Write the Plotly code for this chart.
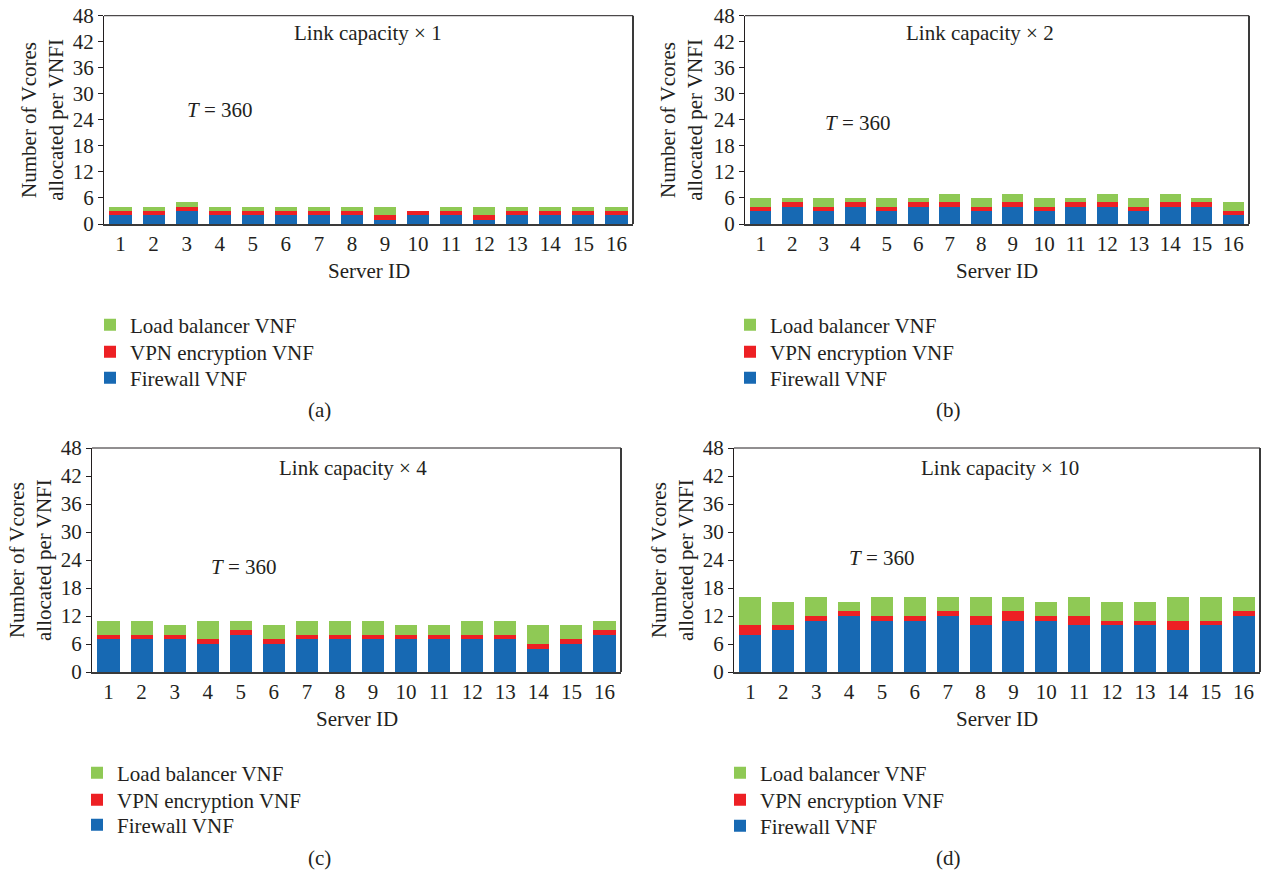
import plotly.graph_objects as go

# Server IDs on the x axis
servers = list(range(1, 17))
tick_vals = [0, 6, 12, 18, 24, 30, 36, 42, 48]

# Vcores allocated per VNF instance, one set per link-capacity scenario
a_firewall = [2, 2, 3, 2, 2, 2, 2, 2, 1, 2, 2, 1, 2, 2, 2, 2]
a_vpn = [1, 1, 1, 1, 1, 1, 1, 1, 1, 1, 1, 1, 1, 1, 1, 1]
a_lb = [1, 1, 1, 1, 1, 1, 1, 1, 2, 0, 1, 2, 1, 1, 1, 1]

b_firewall = [3, 4, 3, 4, 3, 4, 4, 3, 4, 3, 4, 4, 3, 4, 4, 2]
b_vpn = [1, 1, 1, 1, 1, 1, 1, 1, 1, 1, 1, 1, 1, 1, 1, 1]
b_lb = [2, 1, 2, 1, 2, 1, 2, 2, 2, 2, 1, 2, 2, 2, 1, 2]

c_firewall = [7, 7, 7, 6, 8, 6, 7, 7, 7, 7, 7, 7, 7, 5, 6, 8]
c_vpn = [1, 1, 1, 1, 1, 1, 1, 1, 1, 1, 1, 1, 1, 1, 1, 1]
c_lb = [3, 3, 2, 4, 2, 3, 3, 3, 3, 2, 2, 3, 3, 4, 3, 2]

d_firewall = [8, 9, 11, 12, 11, 11, 12, 10, 11, 11, 10, 10, 10, 9, 10, 12]
d_vpn = [2, 1, 1, 1, 1, 1, 1, 2, 2, 1, 2, 1, 1, 2, 1, 1]
d_lb = [6, 5, 4, 2, 4, 4, 3, 4, 3, 3, 4, 4, 4, 5, 5, 3]

capacities = ["1", "2", "4", "10"]
captions = ["(a)", "(b)", "(c)", "(d)"]
series_names = ["Firewall VNF", "VPN encryption VNF", "Load balancer VNF"]
colors = ["#1769b3", "#ed2024", "#8fc955"]

panels = [
    (a_firewall, a_vpn, a_lb),
    (b_firewall, b_vpn, b_lb),
    (c_firewall, c_vpn, c_lb),
    (d_firewall, d_vpn, d_lb),
]

FONT = "Liberation Serif"
TXT = "#231f20"
FS = 21
W, H = 1269, 877

# panel geometry in pixels: (left, right, top, bottom)
boxes = [
    (104, 633, 15.7, 224),
    (745, 1249, 15.7, 224),
    (92, 621, 448, 672),
    (734, 1260, 448, 672),
]
# legend rows (left x, centre y of firewall / vpn / load-balancer rows)
legend_rows = [
    (90, (378, 352, 325)),
    (730, (378, 352, 325)),
    (77, (825, 800, 773)),
    (720, (826, 800, 773)),
]
ytitle_x = [43, 682, 30, 672]
xtitle_y = [271, 271, 719, 719]
caption_pos = [(320, 410), (948, 410), (320, 858), (948, 858)]
t_pos = [(4.0, 26.3), (4.1, 23.3), (5.1, 22.5), (5.0, 24.4)]
cap_pos = [(8.47, 44.1), (7.95, 44.1), (8.4, 43.7), (8.6, 43.7)]

fig = go.Figure()
layout = dict(
    width=W, height=H,
    margin=dict(l=0, r=0, t=0, b=0, autoexpand=False),
    paper_bgcolor="white", plot_bgcolor="white",
    barmode="stack", bargap=0.33,
    font=dict(family=FONT, size=FS, color=TXT),
    showlegend=True,
)
annotations = []
shapes = []


def text_note(**kw):
    base = dict(showarrow=False, xanchor="center", yanchor="middle",
                font=dict(size=FS, family=FONT, color=TXT))
    base.update(kw)
    return base


for i, (fw, vpn, lb) in enumerate(panels):
    k = "" if i == 0 else str(i + 1)
    xa, ya = "x" + k, "y" + k
    lx, rows = legend_rows[i]
    for j, (name, vals, col) in enumerate(zip(series_names, (fw, vpn, lb), colors)):
        n = i * 3 + j + 1
        leg = "legend" if n == 1 else "legend" + str(n)
        fig.add_trace(go.Bar(
            x=servers, y=vals, name=name, marker=dict(color=col, line=dict(width=0)),
            xaxis=xa, yaxis=ya, legend=leg, hoverinfo="x+y+name",
        ))
        layout[leg] = dict(
            x=lx / W, y=1 - rows[j] / H, xanchor="left", yanchor="middle",
            bgcolor="rgba(0,0,0,0)",
            font=dict(size=FS, family=FONT, color=TXT),
        )
    l, r, t, b = boxes[i]
    layout["xaxis" + k] = dict(
        domain=[l / W, r / W], anchor=ya, range=[0.5, 16.5], automargin=False,
        tickmode="array", tickvals=servers, ticks="",
        showline=True, linewidth=2, linecolor="#3a3a3a",
        showgrid=False, zeroline=False,
        tickfont=dict(size=FS, family=FONT, color=TXT),
    )
    layout["yaxis" + k] = dict(
        domain=[1 - b / H, 1 - t / H], anchor=xa, range=[0, 48], automargin=False,
        tickmode="array", tickvals=tick_vals, ticks="outside", ticklen=5,
        tickcolor="#231f20", tickwidth=1,
        showline=True, linewidth=1, linecolor="#231f20",
        showgrid=False, zeroline=False,
        tickfont=dict(size=FS, family=FONT, color=TXT),
    )
    # axis titles
    annotations.append(text_note(xref="paper", yref=ya + " domain", x=ytitle_x[i] / W, y=0.5,
                                 text="Number of Vcores<br>allocated per VNFI", textangle=-90))
    annotations.append(text_note(xref=xa + " domain", yref="paper", x=0.5,
                                 y=1 - xtitle_y[i] / H, text="Server ID"))
    # frame: top and right borders
    shapes.append(dict(type="line", xref=xa + " domain", yref=ya + " domain",
                       x0=0, x1=1, y0=1, y1=1, line=dict(color="#231f20", width=1)))
    shapes.append(dict(type="line", xref=xa + " domain", yref=ya + " domain",
                       x0=1, x1=1, y0=0, y1=1, line=dict(color="#3a3a3a", width=2)))
    tx, ty = t_pos[i]
    annotations.append(text_note(xref=xa, yref=ya, x=tx, y=ty, text="<i>T</i> = 360"))
    cx, cy = cap_pos[i]
    annotations.append(text_note(xref=xa, yref=ya, x=cx, y=cy,
                                 text="Link capacity \u00d7 " + capacities[i]))
    px, py = caption_pos[i]
    annotations.append(text_note(xref="paper", yref="paper", x=px / W, y=1 - py / H,
                                 text=captions[i]))

layout["annotations"] = annotations
layout["shapes"] = shapes
fig.update_layout(**layout)
fig.write_html("out.html")
